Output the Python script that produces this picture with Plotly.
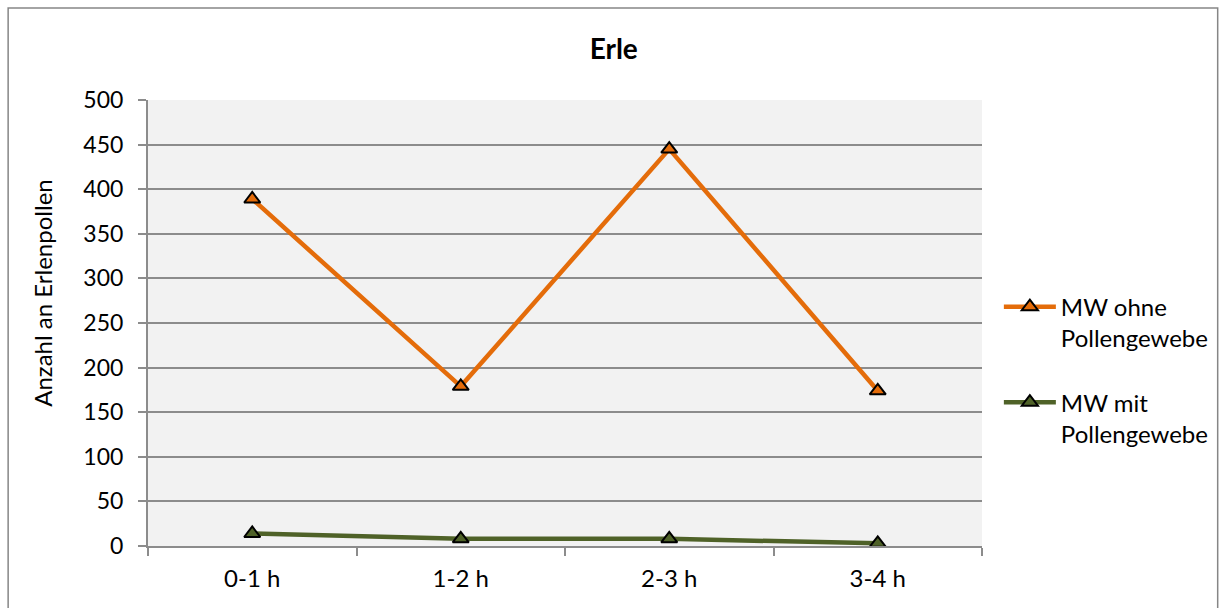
import plotly.graph_objects as go

# Erle: mean alder pollen counts per hour interval
categories = ["0-1 h", "1-2 h", "2-3 h", "3-4 h"]
ohne_values = [389, 179, 445, 174]
mit_values = [14, 8, 8, 3]
y_ticks = [0, 50, 100, 150, 200, 250, 300, 350, 400, 450, 500]

FONT = "Lato"
ORANGE = "#E46C0A"
GREEN = "#4F6228"
GRID = "#8c8c8c"

fig = go.Figure()
fig.add_trace(go.Scatter(
    x=categories, y=ohne_values, mode="lines+markers",
    name="MW ohne<br>Pollengewebe", legendgroup="ohne",
    line=dict(color=ORANGE, width=4.5),
    marker=dict(symbol="triangle-up", size=14, color=ORANGE,
                line=dict(color="black", width=2)),
))
fig.add_trace(go.Scatter(
    x=categories, y=mit_values, mode="lines+markers",
    name="MW mit<br>Pollengewebe", legendgroup="mit",
    line=dict(color=GREEN, width=4.5),
    marker=dict(symbol="triangle-up", size=14, color=GREEN,
                line=dict(color="black", width=2)),
))

# outer chart frame
fig.add_shape(type="rect", xref="paper", yref="paper",
              x0=-0.1677, x1=1.2826, y0=-0.16, y1=1.2063,
              line=dict(color="#868686", width=1.5), fillcolor="rgba(0,0,0,0)",
              layer="below")

# y-axis title, placed beside the value labels
fig.add_annotation(text="Anzahl an Erlenpollen", textangle=-90,
                   xref="paper", yref="paper", x=-0.1275, y=0.567,
                   xanchor="center", yanchor="middle", showarrow=False,
                   font=dict(family=FONT, size=24, color="black"))

fig.update_layout(
    width=1225, height=608,
    margin=dict(l=148, r=242, t=100, b=62),
    paper_bgcolor="white",
    plot_bgcolor="#f2f2f2",
    font=dict(family=FONT, size=23, color="black"),
    title=dict(text="<b>Erle</b>", x=0.501, xref="container",
               y=1 - 49 / 608, yref="container", xanchor="center",
               yanchor="middle", font=dict(family=FONT, size=28)),
    showlegend=True,
    legend=dict(x=1.019, y=0.586, xanchor="left", yanchor="top",
                valign="top",
                font=dict(family=FONT, size=24), itemwidth=52,
                tracegroupgap=30, bgcolor="rgba(0,0,0,0)"),
    xaxis=dict(
        type="category", range=[-0.5, 3.5],
        showline=True, linecolor=GRID, linewidth=2,
        ticks="outside", tickson="boundaries", ticklen=8,
        tickcolor=GRID, tickwidth=2,
        showgrid=False, ticklabelstandoff=10,
        tickfont=dict(family=FONT, size=24),
    ),
    yaxis=dict(
        range=[0, 500], tickvals=y_ticks,
        showline=True, linecolor=GRID, linewidth=2,
        ticks="outside", ticklen=8, tickcolor=GRID, tickwidth=2,
        showgrid=True, gridcolor=GRID, gridwidth=2,
        zeroline=False, ticklabelstandoff=10,
        tickfont=dict(family=FONT, size=23),
    ),
)

fig.write_html("out.html")
